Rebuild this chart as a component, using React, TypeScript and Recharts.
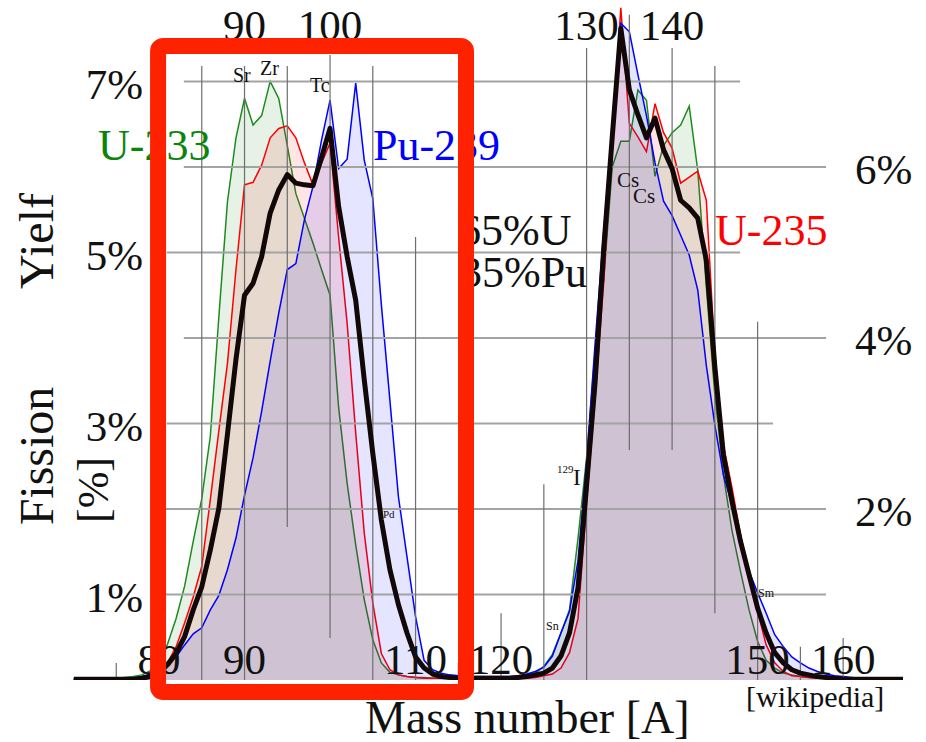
import React from 'react';
import { ComposedChart, Area, Line, XAxis, YAxis, ReferenceLine } from 'recharts';

// ---------- data ----------
const massNumbers = [
  70, 71, 72, 73, 74, 75, 76, 77, 78, 79,
  80, 81, 82, 83, 84, 85, 86, 87, 88, 89,
  90, 91, 92, 93, 94, 95, 96, 97, 98, 99,
  100, 101, 102, 103, 104, 105, 106, 107, 108, 109,
  110, 111, 112, 113, 114, 115, 116, 117, 118, 119,
  120, 121, 122, 123, 124, 125, 126, 127, 128, 129,
  130, 131, 132, 133, 134, 135, 136, 137, 138, 139,
  140, 141, 142, 143, 144, 145, 146, 147, 148, 149,
  150, 151, 152, 153, 154, 155, 156, 157, 158, 159,
  160, 161, 162, 163, 164, 165, 166, 167,
];

const u233 = [
  0.01, 0.01, 0.01, 0.01, 0.02, 0.02, 0.03, 0.04, 0.06, 0.11,
  0.20, 0.42, 0.72, 1.10, 1.62, 2.12, 2.85, 4.25, 5.59, 6.34,
  6.80, 6.49, 6.60, 7.00, 6.80, 6.25, 5.69, 5.40, 5.11, 4.80,
  4.50, 3.19, 2.30, 1.58, 0.94, 0.47, 0.20, 0.09, 0.06, 0.04,
  0.03, 0.03, 0.02, 0.02, 0.02, 0.02, 0.02, 0.02, 0.02, 0.02,
  0.02, 0.03, 0.04, 0.05, 0.08, 0.16, 0.30, 0.55, 0.82, 1.66,
  2.60, 3.85, 4.68, 6.00, 6.30, 6.30, 6.90, 6.78, 5.89, 6.25,
  6.40, 6.49, 6.71, 5.96, 4.60, 3.33, 2.40, 1.75, 1.27, 0.82,
  0.45, 0.23, 0.14, 0.08, 0.06, 0.04, 0.03, 0.02, 0.02, 0.01,
  0.01, 0.01, 0.01, 0.01, 0.01, 0.01, 0.01, 0.01,
];

const u235 = [
  0.01, 0.01, 0.01, 0.01, 0.01, 0.01, 0.01, 0.02, 0.03, 0.05,
  0.10, 0.20, 0.39, 0.67, 0.97, 1.33, 2.11, 2.92, 3.70, 4.80,
  5.79, 5.82, 6.02, 6.34, 6.45, 6.48, 6.34, 6.05, 5.79, 6.04,
  6.28, 5.18, 4.17, 2.89, 1.72, 0.90, 0.31, 0.12, 0.06, 0.04,
  0.03, 0.02, 0.02, 0.02, 0.02, 0.02, 0.02, 0.02, 0.02, 0.02,
  0.02, 0.02, 0.02, 0.02, 0.03, 0.05, 0.07, 0.14, 0.32, 0.72,
  2.08, 3.30, 4.65, 6.29, 7.86, 6.51, 6.35, 6.18, 6.74, 6.40,
  6.22, 5.81, 5.88, 5.95, 5.61, 3.80, 2.75, 2.25, 1.70, 1.23,
  0.80, 0.41, 0.20, 0.10, 0.05, 0.04, 0.03, 0.02, 0.02, 0.01,
  0.01, 0.01, 0.01, 0.01, 0.01, 0.01, 0.01, 0.01,
];

const pu239 = [
  0.01, 0.01, 0.01, 0.01, 0.01, 0.01, 0.01, 0.02, 0.04, 0.07,
  0.13, 0.20, 0.27, 0.41, 0.54, 0.61, 0.82, 0.99, 1.29, 1.66,
  2.16, 2.60, 3.14, 3.73, 4.29, 4.80, 4.87, 5.38, 5.77, 6.31,
  6.78, 5.98, 6.09, 6.98, 6.08, 5.63, 4.39, 3.27, 2.14, 1.44,
  0.74, 0.23, 0.12, 0.08, 0.06, 0.05, 0.04, 0.04, 0.04, 0.04,
  0.04, 0.04, 0.05, 0.07, 0.10, 0.15, 0.28, 0.55, 0.80, 1.40,
  2.55, 3.94, 5.24, 6.48, 7.68, 7.58, 7.08, 6.60, 6.05, 5.60,
  5.43, 5.20, 4.97, 4.56, 3.68, 2.98, 2.40, 2.05, 1.66, 1.27,
  1.02, 0.78, 0.53, 0.39, 0.27, 0.20, 0.14, 0.10, 0.07, 0.05,
  0.04, 0.03, 0.02, 0.01, 0.01, 0.01, 0.01, 0.01,
];

const mix65u35pu = [
  0.01, 0.01, 0.01, 0.01, 0.01, 0.01, 0.01, 0.01, 0.02, 0.04,
  0.08, 0.18, 0.31, 0.51, 0.82, 1.09, 1.52, 2.01, 2.87, 3.75,
  4.50, 4.64, 4.95, 5.46, 5.73, 5.91, 5.81, 5.79, 5.78, 6.11,
  6.45, 5.54, 4.95, 4.44, 3.51, 2.65, 1.87, 1.29, 0.88, 0.55,
  0.27, 0.14, 0.07, 0.04, 0.03, 0.02, 0.02, 0.02, 0.02, 0.02,
  0.02, 0.02, 0.03, 0.04, 0.06, 0.08, 0.14, 0.28, 0.55, 1.08,
  2.28, 3.49, 5.04, 6.35, 7.62, 6.90, 6.61, 6.34, 6.57, 6.20,
  5.98, 5.61, 5.52, 5.40, 4.91, 3.66, 2.63, 2.09, 1.62, 1.23,
  0.84, 0.55, 0.32, 0.20, 0.12, 0.08, 0.06, 0.04, 0.03, 0.02,
  0.01, 0.01, 0.01, 0.01, 0.01, 0.01, 0.01, 0.01,
];

const bottomTicks = [80, 90, 110, 120, 150, 160];
const topTicks = [90, 100, 130, 140];
const leftTicks = [1, 3, 5, 7];
const rightTicks = [2, 4, 6];

// partial grid segments (data units)
const hGrid = [
  { v: 1, from: 78.95, to: 158 },
  { v: 2, from: 78.95, to: 158 },
  { v: 3, from: 80.9, to: 151.8 },
  { v: 4, from: 82.9, to: 158 },
  { v: 5, from: 80.9, to: 147.95 },
  { v: 6, from: 82.9, to: 158 },
  { v: 7, from: 82.9, to: 147.95 },
];
const vGrid = [
  { a: 75, from: 0, to: 0.2 },
  { a: 85, from: 0, to: 7.18 },
  { a: 90, from: 0, to: 7.18 },
  { a: 95, from: 1.79, to: 7.18 },
  { a: 100, from: 0.49, to: 7.31 },
  { a: 105, from: 0, to: 7.18 },
  { a: 110, from: 0, to: 5.18 },
  { a: 115, from: 0, to: 0.2 },
  { a: 120, from: 0, to: 0.78 },
  { a: 125, from: 0, to: 2.29 },
  { a: 130, from: 0, to: 7.39 },
  { a: 135, from: 2.69, to: 7.78 },
  { a: 140, from: 2.69, to: 7.39 },
  { a: 145, from: 0.78, to: 7.18 },
  { a: 150, from: 0, to: 4.19 },
  { a: 155, from: 0, to: 0.39 },
  { a: 160, from: 0, to: 0.49 },
];

// highlight box (data units)
const highlightBox = { x1: 79.89, x2: 115.9, y1: -0.14, y2: 7.415 };

const data = massNumbers.map((A, i) => ({
  A,
  u233: u233[i],
  u235: u235[i],
  pu239: pu239[i],
  mix: mix65u35pu[i],
}));

// ---------- layout ----------
const W = 926;
const H = 742;
const AX = 1; // thickness reserved by each (invisible) axis
const M = { top: 0, right: 22, bottom: 61, left: 72.5 };
const X_DOMAIN: [number, number] = [70, 167];
const Y_DOMAIN: [number, number] = [0, 7.94];
const FONT = '"Liberation Serif", "Times New Roman", serif';

const plotL = M.left + AX;
const plotT = M.top + AX;
const plotW = W - M.left - M.right - 2 * AX;
const plotH = H - M.top - M.bottom - 2 * AX;
const sx = (v: number) => plotL + ((v - X_DOMAIN[0]) / (X_DOMAIN[1] - X_DOMAIN[0])) * plotW;
const sy = (v: number) => plotT + plotH - ((v - Y_DOMAIN[0]) / (Y_DOMAIN[1] - Y_DOMAIN[0])) * plotH;

const BottomTick = (p: any) => (
  <text x={p.x} y={674} textAnchor="middle" fontFamily={FONT} fontSize={43} fill="#111">
    {p.payload.value}
  </text>
);
const TopTick = (p: any) => (
  <text x={p.x} y={40} textAnchor="middle" fontFamily={FONT} fontSize={43} fill="#111">
    {p.payload.value}
  </text>
);
const LeftTick = (p: any) => (
  <text x={143} y={p.y + 18} textAnchor="end" fontFamily={FONT} fontSize={43} fill="#111">
    {p.payload.value + '%'}
  </text>
);
const RightTick = (p: any) => (
  <text x={855} y={p.y + 17} textAnchor="start" fontFamily={FONT} fontSize={43} fill="#111">
    {p.payload.value + '%'}
  </text>
);

export default function App() {
  const bx1 = sx(highlightBox.x1);
  const bx2 = sx(highlightBox.x2);
  const by1 = sy(highlightBox.y2);
  const by2 = sy(highlightBox.y1);
  return (
    <div style={{ position: 'absolute', left: 0, top: 0, width: W, height: H, background: '#fff' }}>
      <ComposedChart width={W} height={H} data={data} margin={M}>
        <XAxis
          xAxisId="b"
          dataKey="A"
          type="number"
          domain={X_DOMAIN}
          ticks={bottomTicks}
          interval={0}
          height={AX}
          axisLine={false}
          tickLine={false}
          tick={BottomTick}
          allowDataOverflow
        />
        <XAxis
          xAxisId="t"
          dataKey="A"
          type="number"
          orientation="top"
          domain={X_DOMAIN}
          ticks={topTicks}
          interval={0}
          height={AX}
          axisLine={false}
          tickLine={false}
          tick={TopTick}
          allowDataOverflow
        />
        <YAxis
          yAxisId="l"
          type="number"
          domain={Y_DOMAIN}
          ticks={leftTicks}
          interval={0}
          width={AX}
          axisLine={false}
          tickLine={false}
          tick={LeftTick}
          allowDataOverflow
        />
        <YAxis
          yAxisId="r"
          orientation="right"
          type="number"
          domain={Y_DOMAIN}
          ticks={rightTicks}
          interval={0}
          width={AX}
          axisLine={false}
          tickLine={false}
          tick={RightTick}
          allowDataOverflow
        />
        {hGrid.map((g) => (
          <ReferenceLine
            key={'h' + g.v}
            xAxisId="b"
            yAxisId="l"
            segment={[{ x: g.from, y: g.v }, { x: g.to, y: g.v }]}
            stroke="#a3a3a3"
            strokeWidth={2}
          />
        ))}
        {vGrid.map((g) => (
          <ReferenceLine
            key={'v' + g.a}
            xAxisId="b"
            yAxisId="l"
            segment={[{ x: g.a, y: g.from }, { x: g.a, y: g.to }]}
            stroke="#6e6e6e"
            strokeWidth={1.2}
          />
        ))}
        <Area
          xAxisId="b"
          yAxisId="l"
          type="linear"
          dataKey="u233"
          stroke="#1f8a1f"
          strokeWidth={1.5}
          fill="#008000"
          fillOpacity={0.1}
          isAnimationActive={false}
          dot={false}
          activeDot={false}
        />
        <Area
          xAxisId="b"
          yAxisId="l"
          type="linear"
          dataKey="u235"
          stroke="#ff0000"
          strokeWidth={1.5}
          fill="#ff0000"
          fillOpacity={0.1}
          isAnimationActive={false}
          dot={false}
          activeDot={false}
        />
        <Area
          xAxisId="b"
          yAxisId="l"
          type="linear"
          dataKey="pu239"
          stroke="#0000ff"
          strokeWidth={1.5}
          fill="#0000ff"
          fillOpacity={0.1}
          isAnimationActive={false}
          dot={false}
          activeDot={false}
        />
        <Line
          xAxisId="b"
          yAxisId="l"
          type="linear"
          dataKey="mix"
          stroke="#120808"
          strokeWidth={5}
          strokeLinejoin="round"
          isAnimationActive={false}
          dot={false}
          activeDot={false}
        />
      </ComposedChart>
      <svg
        width={W}
        height={H}
        style={{ position: 'absolute', left: 0, top: 0, pointerEvents: 'none' }}
        fontFamily={FONT}
      >
        <text x={53} y={241} transform="rotate(-90, 53, 241)" textAnchor="middle" fontSize={48} fill="#111">Yielf</text>
        <text x={53} y={456} transform="rotate(-90, 53, 456)" textAnchor="middle" fontSize={48} fill="#111">Fission</text>
        <text x={108} y={490} transform="rotate(-90, 108, 490)" textAnchor="middle" fontSize={44} fill="#111">[%]</text>

        <text x={98} y={160} fontSize={44} fill="#0a850a">U-233</text>
        <text x={373} y={160} fontSize={44} fill="#0000ff">Pu-239</text>
        <text x={459} y={245} fontSize={44} fill="#111">65%U</text>
        <text x={460} y={287} fontSize={44} fill="#111">35%Pu</text>
        <text x={715} y={245} fontSize={44} fill="#ff0000">U-235</text>

        <text x={233} y={82} fontSize={20} fill="#111">Sr</text>
        <text x={260} y={75} fontSize={20} fill="#111">Zr</text>
        <text x={310} y={92} fontSize={20} fill="#111">Tc</text>
        <text x={617} y={187} fontSize={21} fill="#111">Cs</text>
        <text x={633} y={203} fontSize={21} fill="#111">Cs</text>
        <text x={383} y={518} fontSize={11} fill="#111">Pd</text>
        <text x={557} y={473} fontSize={11} fill="#111">129</text>
        <text x={573} y={485} fontSize={23} fill="#111">I</text>
        <text x={546} y={630} fontSize={12} fill="#111">Sn</text>
        <text x={758} y={597} fontSize={12} fill="#111">Sm</text>

        <text x={365} y={733} fontSize={46} fill="#111">Mass number [A]</text>
        <text x={746} y={707} fontSize={30} fill="#111">[wikipedia]</text>

        <rect
          x={bx1}
          y={by1}
          width={bx2 - bx1}
          height={by2 - by1}
          fill="none"
          stroke="#ff2200"
          strokeWidth={16}
          strokeLinejoin="round"
          rx={5}
        />
      </svg>
    </div>
  );
}
